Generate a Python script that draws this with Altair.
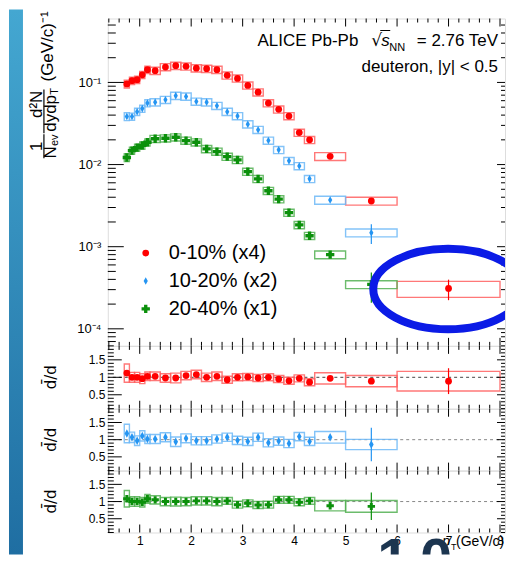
import altair as alt
import pandas as pd

# ---------------- data ----------------
labels = ["0-10% (x4)", "10-20% (x2)", "20-40% (x1)"]

pt_low = [0.7, 0.8, 0.9, 1.0, 1.1, 1.2, 1.4, 1.6, 1.8, 2.0, 2.2, 2.4, 2.6, 2.8,
          3.0, 3.2, 3.4, 3.6, 3.8, 4.0, 4.2, 4.4, 5.0, 6.0]
pt_high = [0.8, 0.9, 1.0, 1.1, 1.2, 1.4, 1.6, 1.8, 2.0, 2.2, 2.4, 2.6, 2.8, 3.0,
           3.2, 3.4, 3.6, 3.8, 4.0, 4.2, 4.4, 5.0, 6.0, 8.0]
pt_mid = [0.75, 0.85, 0.95, 1.05, 1.15, 1.3, 1.5, 1.7, 1.9, 2.1, 2.3, 2.5, 2.7, 2.9,
          3.1, 3.3, 3.5, 3.7, 3.9, 4.1, 4.3, 4.7, 5.5, 7.0]

spectrum_0_10 = [0.096, 0.105, 0.108, 0.124, 0.143, 0.139, 0.154, 0.160, 0.157, 0.149,
                 0.147, 0.143, 0.122, 0.112, 0.092, 0.076, 0.056, 0.047, 0.039, 0.0245,
                 0.020, 0.0126, 0.0036, 0.00031]
spectrum_10_20 = [0.0385, 0.0385, 0.044, 0.048, 0.056, 0.0575, 0.0615, 0.069, 0.0675,
                  0.0586, 0.0575, 0.052, 0.044, 0.039, 0.031, 0.0265, 0.0196, 0.0151,
                  0.0111, 0.0096, 0.0067, 0.0037, 0.00148]
spectrum_20_40 = [0.0122, 0.0148, 0.0161, 0.0171, 0.0187, 0.0206, 0.0209, 0.0215, 0.0196,
                  0.0187, 0.0155, 0.0144, 0.0125, 0.0114, 0.0082, 0.0067, 0.0048, 0.0038,
                  0.0026, 0.00184, 0.00136, 0.00080, 0.000347]

stat_rel_0_10 = [0.02, 0.02, 0.02, 0.02, 0.02, 0.02, 0.02, 0.02, 0.02, 0.02, 0.02, 0.02,
                 0.02, 0.02, 0.02, 0.02, 0.02, 0.02, 0.02, 0.02, 0.03, 0.04, 0.08, 0.28]
stat_rel_10_20 = [0.02, 0.02, 0.02, 0.02, 0.02, 0.02, 0.02, 0.02, 0.02, 0.02, 0.02, 0.02,
                  0.02, 0.02, 0.02, 0.02, 0.02, 0.03, 0.03, 0.03, 0.04, 0.05, 0.27]
stat_rel_20_40 = [0.02, 0.02, 0.02, 0.02, 0.02, 0.02, 0.02, 0.02, 0.02, 0.02, 0.02, 0.02,
                  0.02, 0.02, 0.02, 0.02, 0.03, 0.03, 0.03, 0.04, 0.05, 0.06, 0.40]

syst_rel_0_10 = [0.11, 0.10, 0.10, 0.10, 0.10, 0.10, 0.10, 0.10, 0.10, 0.10, 0.10, 0.10,
                 0.10, 0.10, 0.10, 0.10, 0.10, 0.10, 0.10, 0.10, 0.10, 0.11, 0.11, 0.22]
syst_rel_10_20 = [0.11, 0.10, 0.10, 0.10, 0.10, 0.10, 0.10, 0.10, 0.10, 0.10, 0.10, 0.10,
                  0.10, 0.10, 0.10, 0.10, 0.10, 0.10, 0.10, 0.10, 0.10, 0.11, 0.11]
syst_rel_20_40 = [0.11, 0.10, 0.10, 0.10, 0.10, 0.10, 0.10, 0.10, 0.10, 0.10, 0.10, 0.10,
                  0.10, 0.10, 0.10, 0.10, 0.10, 0.10, 0.10, 0.10, 0.10, 0.11, 0.11]

ratio_0_10 = [1.12, 1.00, 1.00, 0.96, 1.03, 1.03, 0.98, 0.98, 1.05, 1.08, 1.00, 1.03,
              0.93, 1.00, 1.01, 0.98, 1.00, 0.95, 0.90, 0.97, 0.86, 0.97, 0.89, 0.89]
ratio_10_20 = [1.18, 1.07, 0.97, 1.11, 1.02, 1.02, 1.07, 0.94, 1.04, 0.97, 0.97, 1.02,
               1.07, 0.98, 0.95, 1.07, 0.91, 0.96, 0.89, 1.09, 0.95, 1.07, 0.86]
ratio_20_40 = [1.08, 1.00, 1.00, 0.98, 1.08, 1.05, 1.00, 1.00, 1.00, 1.02, 1.02, 1.00,
               1.02, 0.91, 0.95, 0.90, 0.91, 1.05, 1.05, 0.98, 1.02, 0.88, 0.86]

ratio_stat_0_10 = [0.04, 0.03, 0.03, 0.03, 0.03, 0.03, 0.03, 0.03, 0.03, 0.03, 0.03, 0.03,
                   0.03, 0.03, 0.03, 0.03, 0.03, 0.03, 0.03, 0.03, 0.04, 0.04, 0.05, 0.37]
ratio_stat_10_20 = [0.04, 0.03, 0.03, 0.03, 0.03, 0.03, 0.03, 0.03, 0.03, 0.03, 0.03, 0.03,
                    0.03, 0.03, 0.03, 0.03, 0.03, 0.03, 0.03, 0.04, 0.04, 0.05, 0.49]
ratio_stat_20_40 = [0.04, 0.03, 0.03, 0.03, 0.03, 0.03, 0.03, 0.03, 0.03, 0.03, 0.03, 0.03,
                    0.03, 0.03, 0.03, 0.03, 0.03, 0.03, 0.03, 0.04, 0.04, 0.05, 0.40]

ratio_syst_0_10 = [0.26, 0.14, 0.14, 0.14, 0.12, 0.12, 0.12, 0.14, 0.12, 0.12, 0.12, 0.12,
                   0.10, 0.10, 0.10, 0.10, 0.10, 0.10, 0.10, 0.10, 0.10, 0.16, 0.16, 0.28]
ratio_syst_10_20 = [0.27, 0.15, 0.14, 0.15, 0.13, 0.13, 0.13, 0.14, 0.13, 0.12, 0.12, 0.12,
                    0.12, 0.12, 0.12, 0.12, 0.12, 0.12, 0.12, 0.12, 0.12, 0.17, 0.15]
ratio_syst_20_40 = [0.24, 0.14, 0.14, 0.14, 0.13, 0.12, 0.12, 0.13, 0.12, 0.12, 0.12, 0.12,
                    0.10, 0.10, 0.10, 0.10, 0.10, 0.10, 0.10, 0.10, 0.10, 0.15, 0.17]

# ---------------- style ----------------
FONT = "Liberation Sans"
point_colors = ["#ff0000", "#2595f2", "#0b900b"]
box_colors = ["#ff6060", "#6db9f7", "#52b052"]
diamond = "M0,-1L0.55,0L0,1L-0.55,0Z"
shapes = ["circle", diamond, "cross"]
sizes = [46, 70, 55]

spectra = [spectrum_0_10, spectrum_10_20, spectrum_20_40]
stats = [stat_rel_0_10, stat_rel_10_20, stat_rel_20_40]
systs = [syst_rel_0_10, syst_rel_10_20, syst_rel_20_40]
ratios = [ratio_0_10, ratio_10_20, ratio_20_40]
rstats = [ratio_stat_0_10, ratio_stat_10_20, ratio_stat_20_40]
rsysts = [ratio_syst_0_10, ratio_syst_10_20, ratio_syst_20_40]

W = 398
H_MAIN = 328
H_R = [63, 62, 62]

XS = alt.Scale(domain=[0.38, 8.097], nice=False, zero=False)
YS = alt.Scale(type="log", domain=[6.2e-5, 0.6], nice=False)
RS = alt.Scale(domain=[0.1, 1.9], nice=False, zero=False)

x_major = [1, 2, 3, 4, 5, 6, 7, 8]
x_minor = [0.4, 0.6, 0.8, 1.2, 1.4, 1.6, 1.8, 2.2, 2.4, 2.6, 2.8, 3.2, 3.4, 3.6, 3.8,
           4.2, 4.4, 4.6, 4.8, 5.2, 5.4, 5.6, 5.8, 6.2, 6.4, 6.6, 6.8, 7.2, 7.4, 7.6,
           7.8]
y_major = [1e-4, 1e-3, 1e-2, 1e-1]
y_minor = [k * 10.0 ** e for e in range(-5, 0) for k in range(2, 10)
           if 6.2e-5 <= k * 10.0 ** e <= 0.6]
r_major = [0.5, 1.0, 1.5]
r_minor = [0.1, 0.2, 0.3, 0.4, 0.6, 0.7, 0.8, 0.9, 1.1, 1.2, 1.3, 1.4, 1.6, 1.7, 1.8, 1.9]

one = pd.DataFrame({"k": [0]})


def rules(vals, channel, scale, axis, a, b):
    df = pd.DataFrame({"v": vals})
    if channel == "x":
        enc = dict(x=alt.X("v:Q", scale=scale, axis=axis), y=alt.value(a), y2=alt.value(b))
    else:
        enc = dict(y=alt.Y("v:Q", scale=scale, axis=axis), x=alt.value(a), x2=alt.value(b))
    return alt.Chart(df).mark_rule(color="black", strokeWidth=1).encode(**enc)


def txt(s, x, y, size=17, angle=0, align="left", baseline="alphabetic", style="normal",
        color="black", weight="normal", font=FONT, clip=False):
    return alt.Chart(one).mark_text(
        text=s, fontSize=size, angle=angle, align=align, baseline=baseline,
        font=font, fontStyle=style, color=color, fontWeight=weight, clip=clip
    ).encode(x=alt.value(x), y=alt.value(y))


def hline(x1, x2, y, width=1):
    return alt.Chart(one).mark_rule(color="black", strokeWidth=width).encode(
        x=alt.value(x1), x2=alt.value(x2), y=alt.value(y))


def vline(x, y1, y2, width=1.2):
    return alt.Chart(one).mark_rule(color="black", strokeWidth=width).encode(
        x=alt.value(x), y=alt.value(y1), y2=alt.value(y2))


# ---------------- main panel ----------------
y_axis_main = alt.Axis(
    values=y_major, ticks=False, domain=False, grid=False, title=None,
    labelPadding=7, labelFontSize=13, labelFont=FONT, labelColor="black",
    labelExpr="datum.value > 0.05 ? '10⁻¹' : datum.value > 0.005 ? '10⁻²' : "
              "datum.value > 0.0005 ? '10⁻³' : '10⁻⁴'")

rows = []
for i, lab in enumerate(labels):
    n = len(spectra[i])
    for j in range(n):
        v = spectra[i][j]
        rows.append(dict(series=lab, pt=pt_mid[j], lo=pt_low[j], hi=pt_high[j], val=v,
                         slo=v * (1 - stats[i][j]), shi=v * (1 + stats[i][j]),
                         blo=v * (1 - systs[i][j]), bhi=v * (1 + systs[i][j])))
main_df = pd.DataFrame(rows)

strip = alt.Chart(one).mark_rect(
    color=alt.Gradient(gradient="linear", x1=0, x2=0, y1=0, y2=1,
                       stops=[alt.GradientStop(color="#44a7d1", offset=0),
                              alt.GradientStop(color="#1f6ea2", offset=1)])
).encode(x=alt.value(-99), x2=alt.value(-85), y=alt.value(-9), y2=alt.value(537))

main_layers = [strip]
for i, lab in enumerate(labels):
    d = main_df[main_df.series == lab]
    main_layers.append(alt.Chart(d).mark_rect(
        fillOpacity=0, stroke=box_colors[i], strokeWidth=1.4, strokeOpacity=0.85, clip=True
    ).encode(x=alt.X("lo:Q", scale=XS, axis=None), x2="hi:Q",
             y=alt.Y("blo:Q", scale=YS, axis=y_axis_main), y2="bhi:Q"))
    main_layers.append(alt.Chart(d).mark_rule(color=point_colors[i], strokeWidth=1.2).encode(
        x=alt.X("pt:Q", scale=XS, axis=None),
        y=alt.Y("slo:Q", scale=YS, axis=y_axis_main), y2="shi:Q"))

legend = alt.Legend(orient="none", legendX=28, legendY=225, title=None,
                    labelFontSize=20, labelFont=FONT, labelColor="black",
                    symbolSize=60, symbolStrokeWidth=0, padding=0, rowPadding=8,
                    labelOffset=13)
main_layers.append(alt.Chart(main_df).mark_point(filled=True, opacity=1).encode(
    x=alt.X("pt:Q", scale=XS, axis=None),
    y=alt.Y("val:Q", scale=YS, axis=y_axis_main),
    color=alt.Color("series:N", scale=alt.Scale(domain=labels, range=point_colors), legend=legend),
    shape=alt.Shape("series:N", scale=alt.Scale(domain=labels, range=shapes), legend=legend),
    size=alt.Size("series:N", scale=alt.Scale(domain=labels, range=sizes), legend=None),
))

# frame ticks (inside, ROOT style)
main_layers += [
    rules(x_major, "x", XS, None, 0, 8), rules(x_minor, "x", XS, None, 0, 4),
    rules(x_major, "x", XS, None, H_MAIN - 8, H_MAIN), rules(x_minor, "x", XS, None, H_MAIN - 4, H_MAIN),
    rules(y_major, "y", YS, y_axis_main, 0, 16), rules(y_minor, "y", YS, y_axis_main, 0, 8),
    rules(y_major, "y", YS, y_axis_main, W - 8, W), rules(y_minor, "y", YS, y_axis_main, W - 4, W),
]

# annotation texts
main_layers += [
    txt("ALICE Pb-Pb", 150, 28),
    txt("√", 264, 28, size=17, font="DejaVu Sans"),
    hline(273, 283, 12),
    txt("s", 274, 28, style="italic"),
    txt("NN", 282, 33, size=11),
    txt("= 2.76 TeV", 391, 28, align="right"),
    txt("deuteron, |y| < 0.5", 391, 54, align="right"),
]

# rotated y title
main_layers += [
    txt("1", -71, 128, angle=270, align="center", baseline="middle"),
    vline(-64, 116, 140),
    txt("N", -57, 134, angle=270, align="center", baseline="middle"),
    txt("ev", -53, 122, size=11, angle=270, align="center", baseline="middle"),
    txt("d²N", -71, 86, angle=270, align="center", baseline="middle"),
    vline(-64, 71, 115),
    txt("dydp", -57, 95, angle=270, align="center", baseline="middle"),
    txt("T", -53, 73, size=11, angle=270, align="center", baseline="middle"),
    txt("(GeV/c)⁻¹", -60, 28, angle=270, align="center", baseline="middle"),
]

ellipse = "M-1,0A1,0.5373,0,1,0,1,0A1,0.5373,0,1,0,-1,0Z"
main_layers.append(alt.Chart(one).mark_point(
    shape=ellipse, size=22500, filled=False, color="#0b1be6", strokeWidth=8, opacity=1,
    clip=True
).encode(x=alt.value(341), y=alt.value(271)))

main = alt.layer(*main_layers).properties(width=W, height=H_MAIN)


# ---------------- ratio panels ----------------
def ratio_panel(i, h, bottom):
    y_axis = alt.Axis(values=r_major, ticks=False, domain=False, grid=False, title=None,
                      labelPadding=3, labelFontSize=12, labelFont=FONT, labelColor="black",
                      labelExpr="datum.value == 1 ? '1' : format(datum.value, '.1f')")
    if bottom:
        x_axis = alt.Axis(values=x_major, ticks=False, domain=False, grid=False, title=None,
                          labelPadding=3, labelFontSize=12, labelFont=FONT,
                          labelColor="black", format="d")
    else:
        x_axis = None
    n = len(ratios[i])
    d = pd.DataFrame(dict(
        pt=pt_mid[:n], lo=pt_low[:n], hi=pt_high[:n], val=ratios[i],
        slo=[ratios[i][j] - rstats[i][j] for j in range(n)],
        shi=[ratios[i][j] + rstats[i][j] for j in range(n)],
        blo=[ratios[i][j] - rsysts[i][j] for j in range(n)],
        bhi=[ratios[i][j] + rsysts[i][j] for j in range(n)],
    ))
    unity = pd.DataFrame({"u": [1.0]})
    layers = [
        alt.Chart(unity).mark_rule(color="#444444" if i == 0 else "#888888",
                                   strokeDash=[3, 3], strokeWidth=1).encode(
            y=alt.Y("u:Q", scale=RS, axis=y_axis)),
        alt.Chart(d).mark_rect(fillOpacity=0, stroke=box_colors[i], strokeWidth=1.4,
                               strokeOpacity=0.85, clip=True).encode(
            x=alt.X("lo:Q", scale=XS, axis=x_axis), x2="hi:Q",
            y=alt.Y("blo:Q", scale=RS, axis=y_axis), y2="bhi:Q"),
        alt.Chart(d).mark_rule(color=point_colors[i], strokeWidth=1.2).encode(
            x=alt.X("pt:Q", scale=XS, axis=x_axis),
            y=alt.Y("slo:Q", scale=RS, axis=y_axis), y2="shi:Q"),
        alt.Chart(d).mark_point(filled=True, opacity=1, shape=shapes[i], size=sizes[i],
                                color=point_colors[i]).encode(
            x=alt.X("pt:Q", scale=XS, axis=x_axis),
            y=alt.Y("val:Q", scale=RS, axis=y_axis)),
        rules(x_major, "x", XS, x_axis, 0, 8), rules(x_minor, "x", XS, x_axis, 0, 4),
        rules(x_major, "x", XS, x_axis, h - 8, h), rules(x_minor, "x", XS, x_axis, h - 4, h),
        rules(r_major, "y", RS, y_axis, 0, 14), rules(r_minor, "y", RS, y_axis, 0, 6),
        rules(r_major, "y", RS, y_axis, W - 8, W), rules(r_minor, "y", RS, y_axis, W - 4, W),
        txt("d̄/d", -57, h / 2, size=15, angle=270, align="center", baseline="middle",
            font="DejaVu Sans"),
    ]
    if bottom:
        layers += [
            txt("p", 335, 76, size=14, style="italic"),
            txt("T", 344, 80, size=9),
            txt("(GeV/c)", 349, 76, size=14),
        ]
    return alt.layer(*layers).properties(width=W, height=h)


r1 = ratio_panel(0, H_R[0], False)
r2 = ratio_panel(1, H_R[1], False)
r3 = ratio_panel(2, H_R[2], True)

# strip under the figure: the large slide glyphs that are cut by the bottom edge
foot = alt.layer(
    txt("1", 286, 47, size=58, align="center", color="#1c3550", weight="bold", clip=True),
    txt("0", 329, 47, size=58, align="center", color="#1c3550", weight="bold", clip=True),
).properties(width=W, height=22, view=alt.ViewBackground(stroke="transparent"))

chart = alt.vconcat(main, r1, r2, r3, foot, spacing=0, bounds="flush").properties(
    padding={"left": 0, "top": 0, "right": 0, "bottom": 0}
).configure_view(stroke="black", strokeWidth=1).configure(
    font=FONT, background="white")

chart.save("out.html", embed_options={"renderer": "svg", "actions": False})
